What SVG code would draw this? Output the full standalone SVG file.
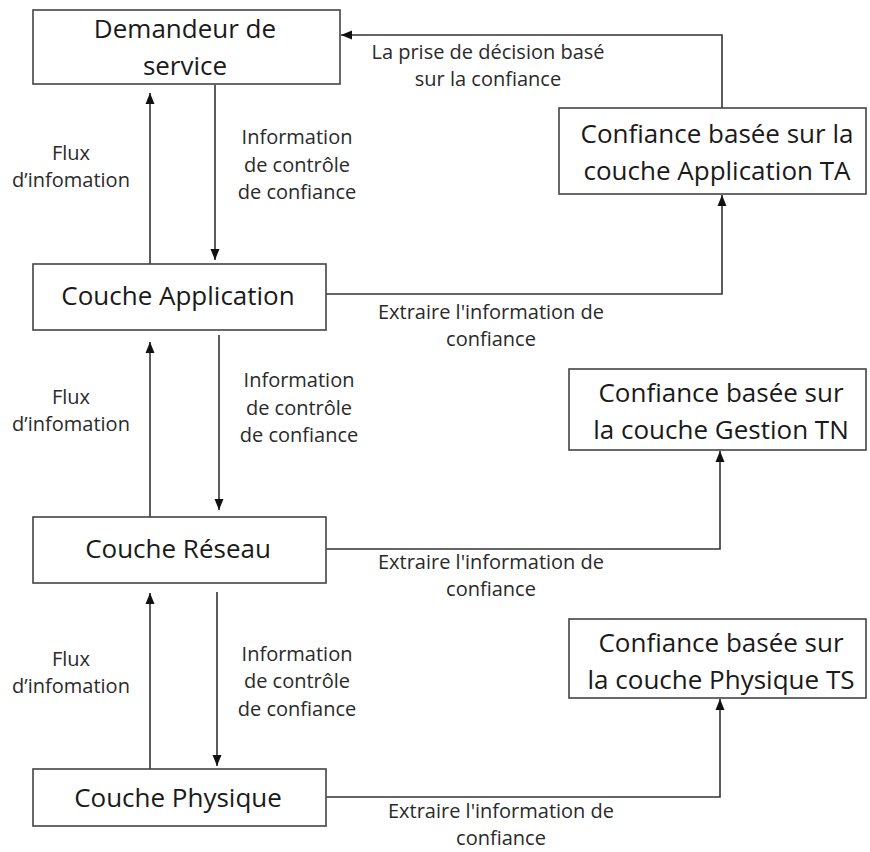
<svg xmlns="http://www.w3.org/2000/svg" width="870" height="852" viewBox="0 0 870 852">
<style>
.box{fill:#fff;stroke:#444;stroke-width:1.6}
.big{font-family:"Open Sans",sans-serif;font-size:26px;fill:#1a1a1a;text-anchor:middle}
.sm{font-family:"Open Sans",sans-serif;font-size:20px;fill:#2a2a2a;text-anchor:middle}
.cn{fill:none;stroke:#333;stroke-width:1.6}
</style>
<defs>
<marker id="ah" markerUnits="userSpaceOnUse" markerWidth="12" markerHeight="12" viewBox="0 0 12 12" refX="11" refY="6" orient="auto">
<path d="M0,1.5 L11,6 L0,10.5 Z" fill="#111"/>
</marker>
</defs>
<rect width="870" height="852" fill="#fff"/>
<g id="connectors">
<path class="cn" d="M722,108 L722,35 L341,35" marker-end="url(#ah)"/>
<path class="cn" d="M326,294 L722,294 L722,195" marker-end="url(#ah)"/>
<path class="cn" d="M326,549 L720,549 L720,451" marker-end="url(#ah)"/>
<path class="cn" d="M326,797 L720,797 L720,699" marker-end="url(#ah)"/>
<path class="cn" d="M150,265 L150,93" marker-end="url(#ah)"/>
<path class="cn" d="M215,85 L215,260" marker-end="url(#ah)"/>
<path class="cn" d="M150,517 L150,342" marker-end="url(#ah)"/>
<path class="cn" d="M219,335 L219,510" marker-end="url(#ah)"/>
<path class="cn" d="M150,769 L150,593" marker-end="url(#ah)"/>
<path class="cn" d="M217,592 L217,766" marker-end="url(#ah)"/>
</g>
<g id="labels">
<text class="sm" x="488" y="59">La prise de décision basé</text>
<text class="sm" x="488" y="86">sur la confiance</text>
<text class="sm" x="71" y="160">Flux</text>
<text class="sm" x="71" y="187">d’infomation</text>
<text class="sm" x="297" y="144">Information</text>
<text class="sm" x="297" y="172">de contrôle</text>
<text class="sm" x="297" y="199">de confiance</text>
<text class="sm" x="491" y="319">Extraire l'information de</text>
<text class="sm" x="491" y="346">confiance</text>
<text class="sm" x="71" y="404">Flux</text>
<text class="sm" x="71" y="431">d’infomation</text>
<text class="sm" x="299" y="387">Information</text>
<text class="sm" x="299" y="415">de contrôle</text>
<text class="sm" x="299" y="442">de confiance</text>
<text class="sm" x="491" y="569">Extraire l'information de</text>
<text class="sm" x="491" y="596">confiance</text>
<text class="sm" x="71" y="666">Flux</text>
<text class="sm" x="71" y="693">d’infomation</text>
<text class="sm" x="297" y="661">Information</text>
<text class="sm" x="297" y="688">de contrôle</text>
<text class="sm" x="297" y="716">de confiance</text>
<text class="sm" x="501" y="818">Extraire l'information de</text>
<text class="sm" x="501" y="845">confiance</text>
</g>
<g id="demandeur">
<rect class="box" x="33" y="10" width="307" height="74"/>
<text class="big" x="185" y="38">Demandeur de</text>
<text class="big" x="185" y="75">service</text>
</g>
<g id="ta">
<rect class="box" x="559" y="108" width="307" height="86"/>
<text class="big" x="717" y="143">Confiance basée sur la</text>
<text class="big" x="717" y="180">couche Application TA</text>
</g>
<g id="application">
<rect class="box" x="33" y="264" width="293" height="66"/>
<text class="big" x="178" y="305">Couche Application</text>
</g>
<g id="tn">
<rect class="box" x="569" y="369" width="297" height="81"/>
<text class="big" x="721" y="402">Confiance basée sur</text>
<text class="big" x="721" y="439">la couche Gestion TN</text>
</g>
<g id="reseau">
<rect class="box" x="33" y="517" width="293" height="66"/>
<text class="big" x="178" y="558">Couche Réseau</text>
</g>
<g id="ts">
<rect class="box" x="569" y="619" width="297" height="79"/>
<text class="big" x="721" y="652">Confiance basée sur</text>
<text class="big" x="721" y="689">la couche Physique TS</text>
</g>
<g id="physique">
<rect class="box" x="33" y="769" width="293" height="57"/>
<text class="big" x="178" y="807">Couche Physique</text>
</g>
</svg>
